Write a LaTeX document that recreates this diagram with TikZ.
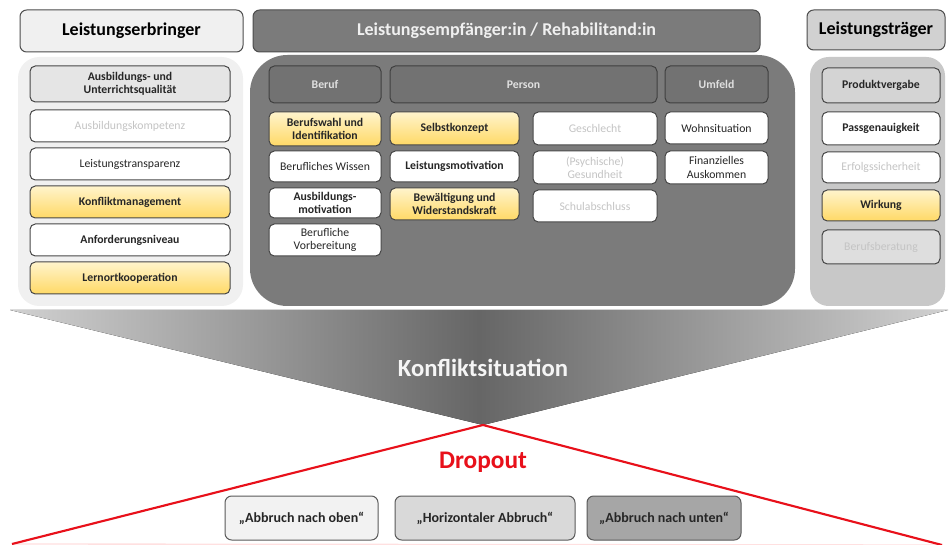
\documentclass[tikz,border=0pt]{standalone}
\usepackage{fontspec}
\setmainfont{Carlito}
\definecolor{yelA}{HTML}{FFF4CC}
\definecolor{yelB}{HTML}{FFD966}
\definecolor{midgray}{HTML}{7B7B7B}
\definecolor{colgray}{HTML}{727272}
\definecolor{leftbg}{HTML}{F0F0F0}
\definecolor{rightbg}{HTML}{C8C8C8}
\definecolor{faint}{HTML}{C4C4C4}
\definecolor{dropred}{HTML}{E8101A}
\begin{document}
\begin{tikzpicture}[x=0.75pt,y=-0.75pt,
  rr/.style n args={4}{minimum width={(#3-#1)*0.75pt}, minimum height={(#4-#2)*0.75pt},
     at={({(#1+#3)/2},{(#2+#4)/2})}},
  box/.style={draw=black!72, line width=0.75pt, rounded corners=4pt, inner sep=0pt, align=center,
     font=\fontsize{8.8}{10}\selectfont, text=black!85},
  bbox/.style={box, font=\fontsize{8.8}{10}\selectfont\bfseries},
  wbox/.style={box, fill=white},
  wbbox/.style={bbox, fill=white},
  ybox/.style={bbox, top color=yelA, bottom color=yelB},
  fbox/.style={box, fill=white, text=faint},
  colhead/.style={bbox, fill=colgray, draw=black!75, text=black!12},
  header/.style={draw=black!70, line width=0.75pt, rounded corners=5pt, inner sep=0pt,
     font=\fontsize{13.5}{15}\selectfont\bfseries},
  outbox/.style={draw=black!65, line width=0.75pt, rounded corners=5pt, inner sep=0pt,
     font=\fontsize{10.5}{12}\selectfont\bfseries, text=black!85}
]
\useasboundingbox (0,0) rectangle (950,545);
\fill[white] (0,0) rectangle (950,545);

% headers
\node[header, fill=black!6, rr={20}{10}{243}{52}] (hL) {Leistungserbringer};
\node[header, fill=midgray, text=black!6, rr={253}{10}{760}{52}] (hM) {Leistungsempfänger:in / Rehabilitand:in};
\node[header, fill=black!18, rr={807}{10}{945}{50}] (hR) {Leistungsträger};

% panels
\fill[leftbg, rounded corners=16pt] (18,57) rectangle (243,306);
\fill[midgray, rounded corners=28pt] (250,55) rectangle (795,306);
\fill[rightbg, rounded corners=14pt] (810,57) rectangle (945,306);

% left column
\node[bbox, fill=black!10, rr={30}{66}{230}{102}] (l1) {Ausbildungs- und\\Unterrichtsqualität};
\node[fbox, rr={30}{110}{230}{142}] (l2) {Ausbildungskompetenz};
\node[wbox, rr={30}{148}{230}{180}] (l3) {Leistungstransparenz};
\node[ybox, rr={30}{186}{230}{218}] (l4) {Konfliktmanagement};
\node[wbbox, rr={30}{224}{230}{256}] (l5) {Anforderungsniveau};
\node[ybox, rr={30}{262}{230}{294}] (l6) {Lernortkooperation};

% middle column headers
\node[colhead, rr={269}{66}{381}{103}] (cB) {Beruf};
\node[colhead, rr={390}{66}{657}{103}] (cP) {Person};
\node[colhead, rr={665}{66}{768}{103}] (cU) {Umfeld};

% Beruf
\node[ybox, rr={269}{112}{381}{146}] (b1) {Berufswahl und\\Identifikation};
\node[wbox, rr={269}{151}{381}{182}] (b2) {Berufliches Wissen};
\node[wbbox, rr={269}{188}{381}{218}] (b3) {Ausbildungs-\\motivation};
\node[wbox, rr={269}{224}{381}{256}] (b4) {Berufliche\\Vorbereitung};

% Person
\node[ybox, rr={390}{112}{519}{145}] (p1) {Selbstkonzept};
\node[wbbox, rr={390}{151}{519}{182}] (p2) {Leistungsmotivation};
\node[ybox, rr={390}{188}{519}{220}] (p3) {Bewältigung und\\Widerstandskraft};
\node[fbox, rr={533}{112}{657}{145}] (q1) {Geschlecht};
\node[fbox, rr={533}{151}{657}{184}] (q2) {(Psychische)\\Gesundheit};
\node[fbox, rr={533}{190}{657}{222}] (q3) {Schulabschluss};

% Umfeld
\node[wbox, rr={665}{112}{768}{144}] (u1) {Wohnsituation};
\node[wbox, rr={665}{151}{768}{184}] (u2) {Finanzielles\\Auskommen};

% right column
\node[bbox, fill=black!17, rr={822}{68}{940}{103}] (r1) {Produktvergabe};
\node[wbbox, rr={822}{112}{940}{145}] (r2) {Passgenauigkeit};
\node[fbox, rr={822}{152}{940}{183}] (r3) {Erfolgssicherheit};
\node[ybox, rr={822}{190}{940}{221}] (r4) {Wirkung};
\node[box, fill=black!13, text=faint, rr={822}{230}{940}{264}] (r5) {Berufsberatung};

% funnel
\coordinate (fL) at (10,310);
\coordinate (fR) at (948,310);
\coordinate (apex) at (483,425);
\fill[left color=black!18, right color=black!18, middle color=black!60] (fL) -- (fR) -- (apex) -- cycle;
\node[font=\fontsize{18.5}{20}\selectfont\bfseries, text=black!4] (konf) at (483,368) {Konfliktsituation};

% dropout
\coordinate (dL) at (12,544);
\coordinate (dR) at (942,545);
\draw[red!12, line width=1pt] (dL) -- (dR);
\draw[dropred, line width=1.6pt] (dL) -- (apex) -- (dR);
\node[font=\fontsize{19}{21}\selectfont\bfseries, text=dropred] (drop) at (483,462) {Dropout};

\node[outbox, fill=black!5, rr={225}{496}{378}{540}] (o1) {„Abbruch nach oben“};
\node[outbox, fill=black!15, rr={395}{496}{575}{540}] (o2) {„Horizontaler Abbruch“};
\node[outbox, fill=black!35, rr={587}{496}{741}{540}] (o3) {„Abbruch nach unten“};
\end{tikzpicture}
\end{document}
